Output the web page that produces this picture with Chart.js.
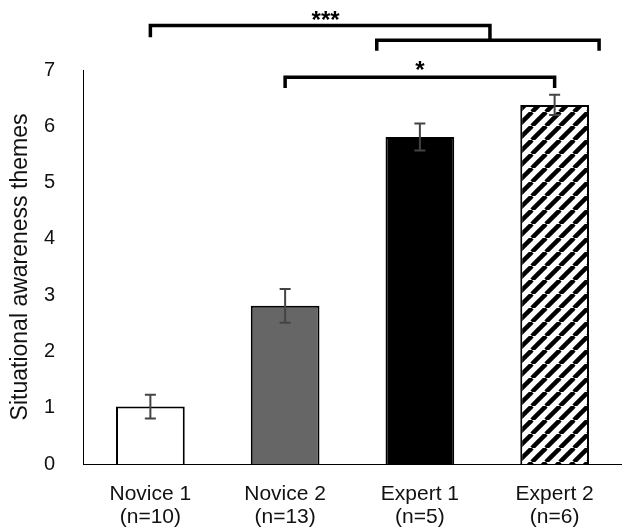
<!DOCTYPE html>
<html>
<head>
<meta charset="utf-8">
<script src="https://cdn.jsdelivr.net/npm/chart.js@4/dist/chart.umd.min.js"></script>
<style>
  html,body{margin:0;padding:0;background:#fff;}
  #wrap{width:622px;height:532px;position:relative;}
</style>
</head>
<body>
<div id="wrap"><canvas id="c" width="622" height="532"></canvas></div>
<script>
// data
const groups = [['Novice 1','(n=10)'],['Novice 2','(n=13)'],['Expert 1','(n=5)'],['Expert 2','(n=6)']];
const means = [1.02, 2.81, 5.81, 6.38];
const errs = [0.21, 0.30, 0.24, 0.18];
const yTicks = [0,1,2,3,4,5,6,7];

const FONT = '"Liberation Sans", Arial, Helvetica, sans-serif';

// diagonal hatch for Expert 2
function makeHatch(){
  const s = 14;
  const c = document.createElement('canvas');
  c.width = s; c.height = s;
  const g = c.getContext('2d');
  g.fillStyle = '#fff'; g.fillRect(0,0,s,s);
  g.strokeStyle = '#000'; g.lineWidth = 4.5;
  for(let k=-1;k<=1;k++){
    g.beginPath(); g.moveTo(k*s, s); g.lineTo(k*s + s, 0); g.stroke();
  }
  return document.getElementById('c').getContext('2d').createPattern(c,'repeat');
}

const fills = ['#ffffff','#666666','#000000', makeHatch()];

// error bars on top of each bar
const errorBars = {
  id:'errorBars',
  afterDatasetsDraw(chart){
    const ctx = chart.ctx, y = chart.scales.y;
    const meta = chart.getDatasetMeta(0);
    ctx.save();
    ctx.strokeStyle = '#444'; ctx.lineWidth = 2;
    meta.data.forEach((bar,i)=>{
      const x = bar.x;
      const hi = y.getPixelForValue(means[i]+errs[i]);
      const lo = y.getPixelForValue(means[i]-errs[i]);
      ctx.beginPath();
      ctx.moveTo(x,hi); ctx.lineTo(x,lo);
      ctx.moveTo(x-5.5,hi); ctx.lineTo(x+5.5,hi);
      ctx.moveTo(x-5.5,lo); ctx.lineTo(x+5.5,lo);
      ctx.stroke();
    });
    ctx.restore();
  }
};

// significance brackets (x in category units, y in value units)
const brackets = [
  {x0:0, x1:2.52, top:7.79, l:7.58, r:7.53, label:'***', lx:1.30, ly:7.99},
  {x0:1.68, x1:3.33, top:7.53, l:7.34, r:7.34, label:'', lx:0, ly:0},
  {x0:1, x1:3, top:6.87, l:6.68, r:6.68, label:'*', lx:2.0, ly:7.10}
];
const sigBrackets = {
  id:'sigBrackets',
  afterDraw(chart){
    const ctx = chart.ctx, xs = chart.scales.x, ys = chart.scales.y;
    ctx.save();
    ctx.strokeStyle = '#000'; ctx.lineWidth = 3.5; ctx.lineCap = 'butt'; ctx.lineJoin = 'miter';
    brackets.forEach(b=>{
      const a = xs.getPixelForValue(b.x0), c = xs.getPixelForValue(b.x1);
      const t = ys.getPixelForValue(b.top);
      ctx.beginPath();
      ctx.moveTo(a, ys.getPixelForValue(b.l));
      ctx.lineTo(a, t);
      ctx.lineTo(c, t);
      ctx.lineTo(c, ys.getPixelForValue(b.r));
      ctx.stroke();
      if(b.label){
        const size = 24;
        ctx.fillStyle = '#000';
        ctx.font = 'bold ' + size + 'px ' + FONT;
        ctx.textAlign = 'center'; ctx.textBaseline = 'alphabetic';
        // asterisk sits high in the em box: shift baseline so the glyph centre lands on ly
        ctx.fillText(b.label, xs.getPixelForValue(b.lx), ys.getPixelForValue(b.ly) + size*0.58);
      }
    });
    ctx.restore();
  }
};

new Chart(document.getElementById('c'), {
  type:'bar',
  data:{
    labels: groups,
    datasets:[{
      data: means,
      backgroundColor: fills,
      borderColor: '#000',
      borderWidth: 2,
      borderSkipped: 'start',
      barPercentage: 0.51,
      categoryPercentage: 1
    }]
  },
  options:{
    responsive:false,
    animation:false,
    layout:{padding:{top:70, right:0, bottom:0, left:0}},
    plugins:{legend:{display:false}, tooltip:{enabled:false}},
    scales:{
      x:{
        afterFit(s){ s.height = 68; },
        grid:{display:false},
        border:{display:true, color:'#000', width:1},
        ticks:{color:'#111', font:{family:FONT, size:21, lineHeight:1.1}, padding:11, maxRotation:0}
      },
      y:{
        min:0, max:7,
        afterFit(s){ s.width = 83; },
        afterBuildTicks(s){ s.ticks = yTicks.map(v=>({value:v})); },
        grid:{display:false},
        border:{display:true, color:'#000', width:1},
        ticks:{color:'#111', font:{family:FONT, size:20}, padding:20},
        title:{display:true, text:'Situational awareness themes', color:'#111',
               font:{family:FONT, size:23}, padding:{top:7, bottom:0}}
      }
    }
  },
  plugins:[errorBars, sigBrackets]
});
</script>
</body>
</html>
